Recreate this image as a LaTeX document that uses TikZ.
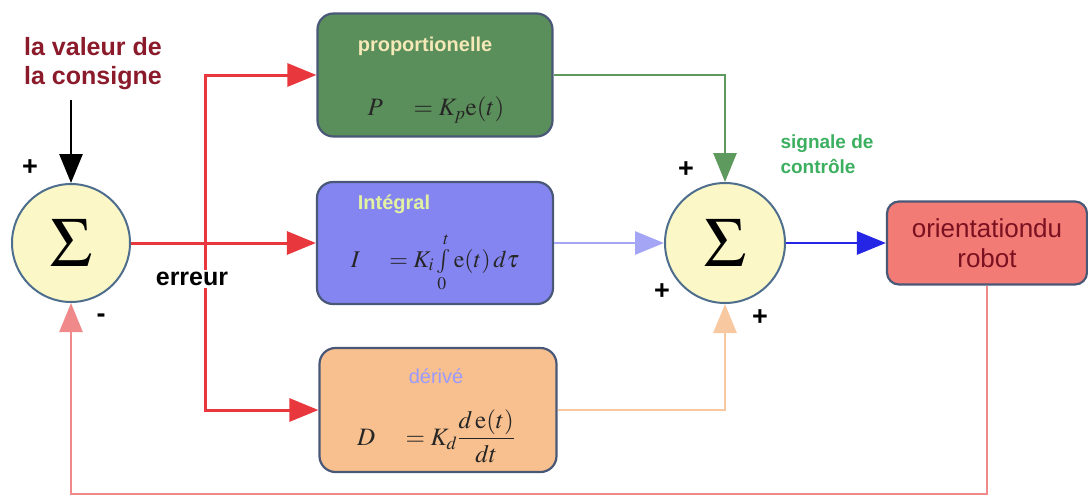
\documentclass[tikz,border=0pt]{standalone}
\usepackage{mathptmx}
\usepackage[no-math]{fontspec}
\setmainfont{Liberation Sans}
\usetikzlibrary{arrows.meta}
\definecolor{cred}{HTML}{E8383D}
\definecolor{cgreen}{HTML}{5E9A5E}
\definecolor{pfill}{HTML}{5A8E5A}
\definecolor{ptitle}{HTML}{F5E9B8}
\definecolor{ifill}{HTML}{8585F2}
\definecolor{ititle}{HTML}{E2F2A0}
\definecolor{dfill}{HTML}{F8C08E}
\definecolor{dtitle}{HTML}{9A9AFF}
\definecolor{sfill}{HTML}{FBF7C6}
\definecolor{sborder}{HTML}{4E6E8E}
\definecolor{clblue}{HTML}{A5A5F5}
\definecolor{corange}{HTML}{F8C8A0}
\definecolor{cblue}{HTML}{2525E5}
\definecolor{rfill}{HTML}{F37B76}
\definecolor{rtext}{HTML}{7A1020}
\definecolor{cfb}{HTML}{F08A8A}
\definecolor{ccons}{HTML}{8B1A2A}
\definecolor{csig}{HTML}{3CB060}
\definecolor{bborder}{HTML}{4A5878}
\tikzset{
  sumc/.style={circle, draw=sborder, line width=2pt, fill=sfill, minimum size=118pt, inner sep=0pt, font=\fontsize{70}{70}\selectfont},
  blockbox/.style={rectangle, rounded corners=16pt, draw=bborder, line width=2.2pt, inner sep=0pt},
  tip/.style={-{Triangle[length=29pt,width=23pt]}},
  conn/.style={line width=2.8pt, tip},
  plus/.style={font=\fontsize{27}{27}\selectfont\bfseries, inner sep=0pt},
  title/.style={font=\fontsize{20}{20}\selectfont\bfseries, inner sep=0pt},
  eq/.style={font=\fontsize{25}{25}\selectfont, inner sep=0pt, text=black!85},
}
\begin{document}
\begin{tikzpicture}[x=1pt,y=-1pt]
\useasboundingbox[fill=white] (0,0) rectangle (1088,499);
% nodes
\node[sumc] (s1) at (71,243) {$\Sigma$};
\node[sumc, minimum size=120pt] (s2) at (725,243) {$\Sigma$};
\node[blockbox, fill=pfill, minimum width=235pt, minimum height=123pt] (P) at (435,75) {};
\node[blockbox, fill=ifill, minimum width=236pt, minimum height=122pt] (I) at (435,243) {};
\node[blockbox, fill=dfill, minimum width=237pt, minimum height=124pt] (D) at (438,410) {};
\node[blockbox, fill=rfill, minimum width=200pt, minimum height=83pt, rounded corners=12pt, align=center, text=rtext, font=\fontsize{26}{30}\selectfont] (R) at (987,243) {orientationdu\\robot};
% texts in boxes
\node[title, text=ptitle] (Pt) at (425,46) {proportionelle};
\node[eq] (Pe) at (436,110) {$P\quad=K_p\mathrm{e}(t)$};
\node[title, text=ititle] (It) at (394,204) {Intégral};
\node[eq, font=\fontsize{24}{24}\selectfont] (Ie) at (435,262) {$I\quad=K_i\int\limits_0^t\mathrm{e}(t)\,d\tau$};
\node[title, text=dtitle, font=\fontsize{20}{20}\selectfont] (Dt) at (436,376) {dérivé};
\node[eq] (De) at (436,436) {$D\quad=K_d\displaystyle\frac{d\,\mathrm{e}(t)}{dt}$};
% labels
\node[text=ccons, font=\fontsize{25}{29}\selectfont\bfseries, align=left, inner sep=0pt] (lv) at (93,64) {la valeur de\\la consigne};
\node[text=csig, font=\fontsize{19}{25}\selectfont\bfseries, align=left, inner sep=0pt] (sig) at (827,154) {signale de\\contrôle};
\node[plus] (p1) at (30,168) {+};
\node[plus] (m1) at (101,318) {-};
\node[plus] (p2) at (686,170) {+};
\node[plus] (p3) at (662,292) {+};
\node[plus] (p4) at (760,318) {+};
% coordinates
\coordinate (cons) at (71,100);
\coordinate (split) at (205,243);
\coordinate (fb) at (71,494);
% connectors
\draw[conn, black] (cons) -- (s1.north);
\draw[conn, cred, line width=3pt] (s1.east) -- (I.west);
\draw[conn, cred, line width=3pt] (split) |- (P.west);
\draw[conn, cred, line width=3pt] (split) |- (D.west);
\node[font=\fontsize{25}{25}\selectfont\bfseries, fill=white, inner sep=2pt] (err) at (192,279) {erreur};
\draw[conn, cgreen] (P.east) -| (s2.north);
\draw[conn, clblue] (I.east) -- (s2.west);
\draw[conn, corange] (D.east) -| (s2.south);
\draw[conn, cblue] (s2.east) -- (R.west);
\draw[conn, cfb, line width=2.6pt] (R.south) |- (fb) -- (s1.south);
\end{tikzpicture}
\end{document}
